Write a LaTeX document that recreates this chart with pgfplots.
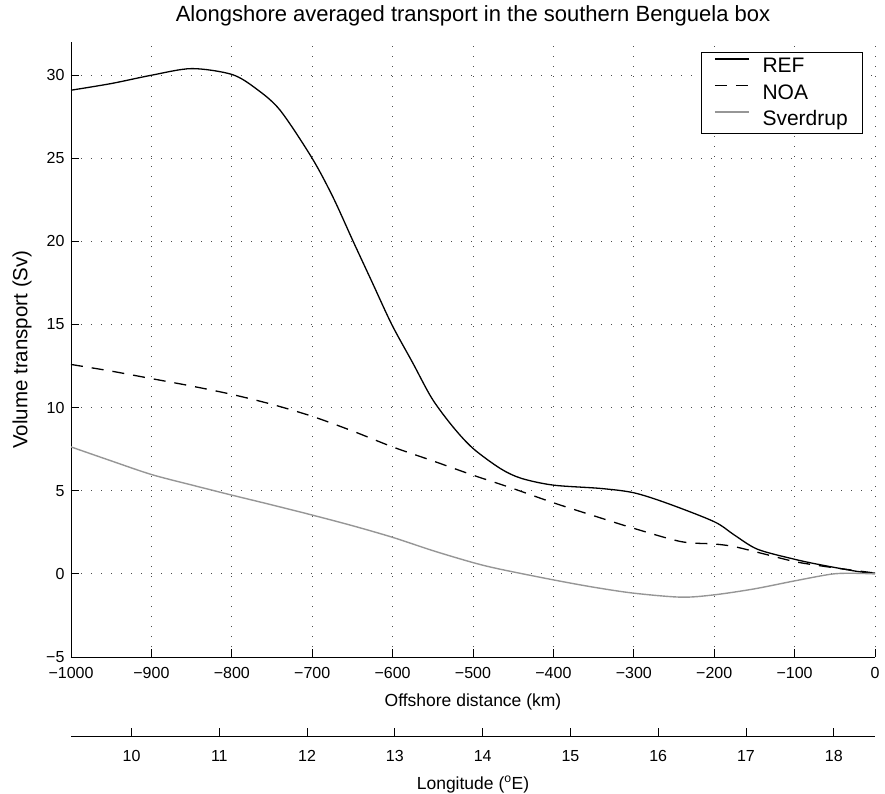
\documentclass[border=0pt]{standalone}
\usepackage{fontspec}
\setmainfont{Liberation Sans}
\usepackage{pgfplots}
\pgfplotsset{compat=1.18}
\definecolor{sgray}{RGB}{150,150,150}
\begin{document}
\begin{tikzpicture}
\begin{axis}[
  name=main, at={(0,0)}, anchor=south west,
  scale only axis, width=804pt, height=615pt,
  xmin=-1000, xmax=0, ymin=-5, ymax=32,
  axis x line*=bottom, axis y line*=left,
  axis line style={-, line width=0.9pt},
  xtick={-1000,-900,...,0},
  xticklabels={−1000,−900,−800,−700,−600,−500,−400,−300,−200,−100,0},
  ytick={-5,0,5,10,15,20,25,30},
  yticklabels={−5,0,5,10,15,20,25,30},
  tick align=inside, major tick length=8pt,
  tick style={line width=0.8pt, black},
  grid=major,
  grid style={line width=0.9pt, black!70, dash pattern=on 1pt off 9pt},
  ticklabel style={font=\fontsize{16}{16}\selectfont},
  xticklabel style={anchor=base, yshift=-21pt},
  yticklabel style={anchor=east, xshift=-3pt},
  title={Alongshore averaged transport in the southern Benguela box},
  title style={font=\fontsize{22}{22}\selectfont, at={(0.5,1)}, anchor=base, yshift=14pt},
  xlabel={Offshore distance (km)},
  xlabel style={font=\fontsize{17.5}{17.5}\selectfont, at={(0.5,0)}, anchor=base, yshift=-49pt},
  ylabel={Volume transport (Sv)},
  every axis y label/.style={at={(axis description cs:-0.061,0.5)}, anchor=center, rotate=90, font=\fontsize{20.5}{20.5}\selectfont},
  legend style={
    at={(axis description cs:0.985,0.9837)}, anchor=north east,
    draw=black, line width=0.8pt, fill=white,
    font=\fontsize{21}{21}\selectfont,
    inner xsep=13pt, inner ysep=5.5pt,
    nodes={inner sep=0pt, text height=15pt, text depth=2pt},
    row sep=9.5pt,
    /tikz/every odd column/.append style={column sep=13pt},
  },
  legend cell align=left,
  legend image code/.code={\draw[#1] (0pt,7.5pt) -- (34pt,7.5pt);},
]
\addplot[black, line width=1.3pt, smooth] coordinates {
(-1000,29.1) (-950,29.5) (-900,30.0) (-850,30.4) (-800,30.05) (-770,29.2)
(-740,27.9) (-700,25.0) (-674,22.65) (-649,20.0) (-625,17.5) (-601,15.0)
(-575,12.7) (-551,10.55) (-525,8.85) (-500,7.55) (-466,6.34) (-440,5.75)
(-400,5.34) (-341,5.14) (-300,4.88) (-258,4.24) (-200,3.14) (-175,2.34)
(-146,1.48) (-100,0.88) (-67,0.54) (-21,0.14) (0,0.05)
};
\addlegendentry{\makebox[87pt][l]{REF}}
\addplot[black, line width=1.3pt, smooth, dash pattern=on 12pt off 9pt] coordinates {
(-1000,12.6) (-950,12.2) (-900,11.75) (-850,11.3) (-800,10.8) (-750,10.2)
(-700,9.48) (-650,8.6) (-600,7.64) (-550,6.8) (-500,5.94) (-454,5.2)
(-400,4.28) (-350,3.5) (-300,2.74) (-241,1.94) (-200,1.80) (-175,1.64)
(-138,1.2) (-100,0.74) (-67,0.48) (-40,0.3) (0,0.05)
};
\addlegendentry{\makebox[87pt][l]{NOA}}
\addplot[sgray, line width=1.4pt, smooth] coordinates {
(-1000,7.64) (-950,6.8) (-900,5.98) (-850,5.35) (-800,4.74) (-750,4.15)
(-700,3.54) (-650,2.9) (-600,2.2) (-550,1.4) (-500,0.68) (-466,0.28)
(-400,-0.36) (-350,-0.8) (-300,-1.16) (-241,-1.4) (-200,-1.26) (-150,-0.9)
(-100,-0.42) (-55,-0.02) (-30,0.04) (0,0)
};
\addlegendentry{\makebox[87pt][l]{Sverdrup}}
\end{axis}
\begin{axis}[
  at={(0,-79pt)}, anchor=south west,
  scale only axis, width=804pt, height=10pt,
  xmin=9.31, xmax=18.47, ymin=0, ymax=1,
  axis x line*=bottom, axis y line=none,
  axis line style={-, line width=0.9pt},
  xtick={10,11,12,13,14,15,16,17,18},
  xticklabels={10,11,12,13,14,15,16,17,18},
  tick align=inside, major tick length=8pt,
  tick style={line width=0.8pt, black},
  ticklabel style={font=\fontsize{16}{16}\selectfont},
  xticklabel style={anchor=base, yshift=-25pt},
  xlabel={Longitude (\textsuperscript{o}E)},
  xlabel style={font=\fontsize{17.5}{17.5}\selectfont, at={(0.5,0)}, anchor=base, yshift=-53pt},
]
\end{axis}
\pgfresetboundingbox
\path[use as bounding box] (-71pt,-136pt) rectangle (814pt,657pt);
\end{tikzpicture}
\end{document}
